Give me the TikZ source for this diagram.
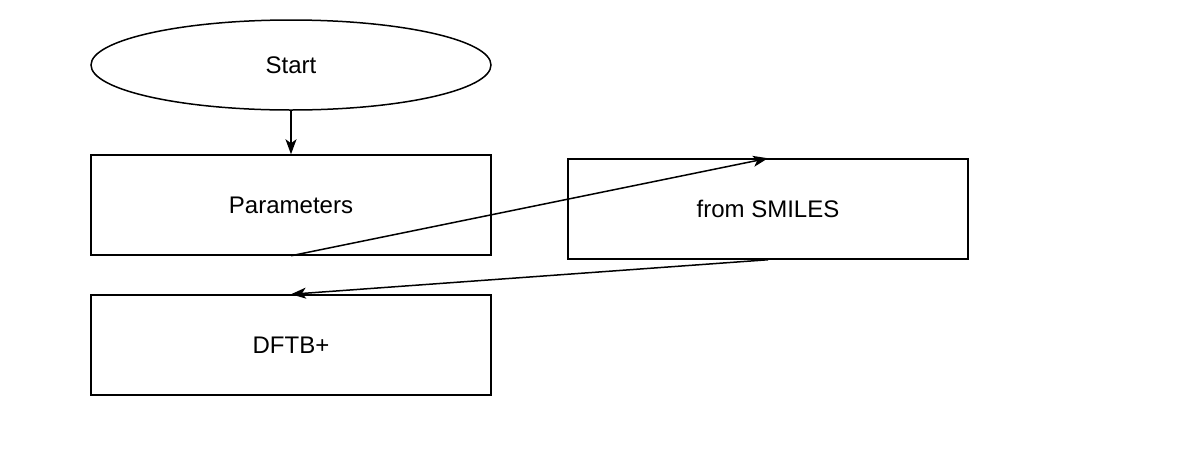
\documentclass[tikz,border=0pt]{standalone}
\usepackage{fontspec}
\setmainfont{Liberation Sans}
\usetikzlibrary{shapes.geometric,arrows.meta}

\begin{document}
\begin{tikzpicture}[x=1pt,y=-1pt]
\tikzstyle{term} = [ellipse,draw,line width=1.5pt,minimum width=400pt,minimum height=90pt,inner sep=0pt,font=\fontsize{24}{28}\selectfont];
\tikzstyle{proc}=[rectangle,draw,line width=1.5pt,minimum width=400pt,minimum height=100pt,inner sep=0pt,font=\fontsize{24}{28}\selectfont];
\tikzstyle{flow}=[-{Stealth[length=15pt,width=11pt,inset=4pt]},line width=1.5pt];
\useasboundingbox (0,0) rectangle (1178,448);
\node [term] (start) at (291,65) {Start};
\node [proc] (params) at (291,205) {Parameters};
\node [proc] (smiles) at (768,209) {from SMILES};
\node [proc] (dftb) at (291,345) {DFTB+};
\draw [flow] (start) -- (params);
\draw [flow] (params.south) -- (smiles.north);
\draw [flow] (smiles.south) -- (dftb.north);
\end{tikzpicture}
\end{document}
